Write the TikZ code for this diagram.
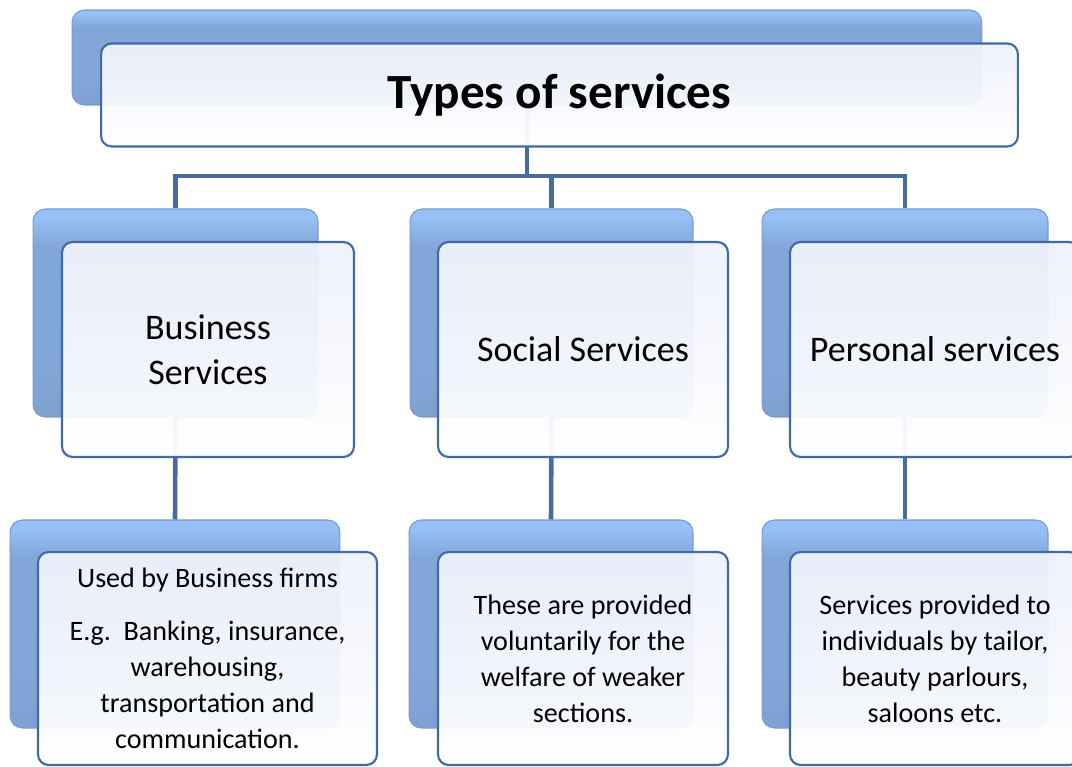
\documentclass[tikz,border=0pt]{standalone}
\usepackage{fontspec}
\setmainfont{Carlito}
\definecolor{backtop}{RGB}{152,192,246}
\definecolor{backmid}{RGB}{130,166,215}
\definecolor{backbot}{RGB}{126,161,210}
\definecolor{backedge}{RGB}{120,154,204}
\definecolor{frontfill}{RGB}{238,241,252}
\definecolor{frontedge}{RGB}{66,106,162}
\definecolor{linkcol}{RGB}{70,108,158}
\pgfdeclareverticalshading{backshade}{100bp}{color(0bp)=(backbot); color(25bp)=(backbot);
  color(40bp)=(backmid); color(66bp)=(backmid); color(73bp)=(backtop); color(100bp)=(backtop)}

\begin{document}
\begin{tikzpicture}[x=0.02cm,y=-0.02cm,
      backbox/.style={rounded corners=7pt,draw=backedge,line width=0.6pt,shading=backshade},
      frontbox/.style={rounded corners=6pt,draw=frontedge,line width=1.2pt,
        top color=frontfill,bottom color=white,fill opacity=0.95,text opacity=1,
        align=center,inner sep=2pt},
      link/.style={draw=linkcol,line width=2.6pt},
      midtext/.style={font=\fontsize{20.5}{25.5}\selectfont},
      lowtext/.style={font=\fontsize{16}{20.5}\selectfont}]
    \useasboundingbox (0,0) rectangle (1072,767);
    \clip (0,0) rectangle (1072,767);
    \node[backbox,minimum width=18.2cm,minimum height=1.9cm] (tback) at (527,57.5) {};
    \node[backbox,minimum width=5.7cm,minimum height=4.16cm] (bback) at (175.5,313) {};
    \node[backbox,minimum width=5.66cm,minimum height=4.16cm] (sback) at (551.5,313) {};
    \node[backbox,minimum width=5.72cm,minimum height=4.16cm] (pback) at (905,313) {};
    \node[backbox,minimum width=6.6cm,minimum height=4.16cm] (bdback) at (175,624) {};
    \node[backbox,minimum width=5.68cm,minimum height=4.16cm] (sdback) at (551,624) {};
    \node[backbox,minimum width=5.72cm,minimum height=4.16cm] (pdback) at (905,624) {};
    \coordinate (fork) at (tback.south |- 0,176);
    \draw[link] (tback.south) -- (fork);
    \foreach \n in {bback,sback,pback}
      \draw[link] (fork) -| (\n.north);
    \draw[link] (bback.south) -- (bdback.north);
    \draw[link] (sback.south) -- (sdback.north);
    \draw[link] (pback.south) -- (pdback.north);
    \node[frontbox,minimum width=18.34cm,minimum height=2.06cm,
      font=\bfseries\fontsize{28}{34}\selectfont] (title) at (559.5,95) {Types of services};
    \node[frontbox,midtext,minimum width=5.84cm,minimum height=4.3cm] (bfront) at (208,349.5)
      {Business\\Services};
    \node[frontbox,midtext,minimum width=5.8cm,minimum height=4.3cm] (sfront) at (583,349.5)
      {Social Services};
    \node[frontbox,midtext,minimum width=5.8cm,minimum height=4.3cm] (pfront) at (935,349.5)
      {Personal services};
    \node[frontbox,lowtext,minimum width=6.78cm,minimum height=4.26cm] (bdesc) at (207.5,658.5)
      {Used by Business firms\\[10pt]E.g.\ \ Banking, insurance,\\warehousing,\\transportation and\\communication.};
    \node[frontbox,lowtext,minimum width=5.8cm,minimum height=4.26cm] (sdesc) at (583,658.5)
      {These are provided\\voluntarily for the\\welfare of weaker\\sections.};
    \node[frontbox,lowtext,minimum width=5.8cm,minimum height=4.26cm] (pdesc) at (935,658.5)
      {Services provided to\\individuals by tailor,\\beauty parlours,\\saloons etc.};
  \end{tikzpicture}
\end{document}
